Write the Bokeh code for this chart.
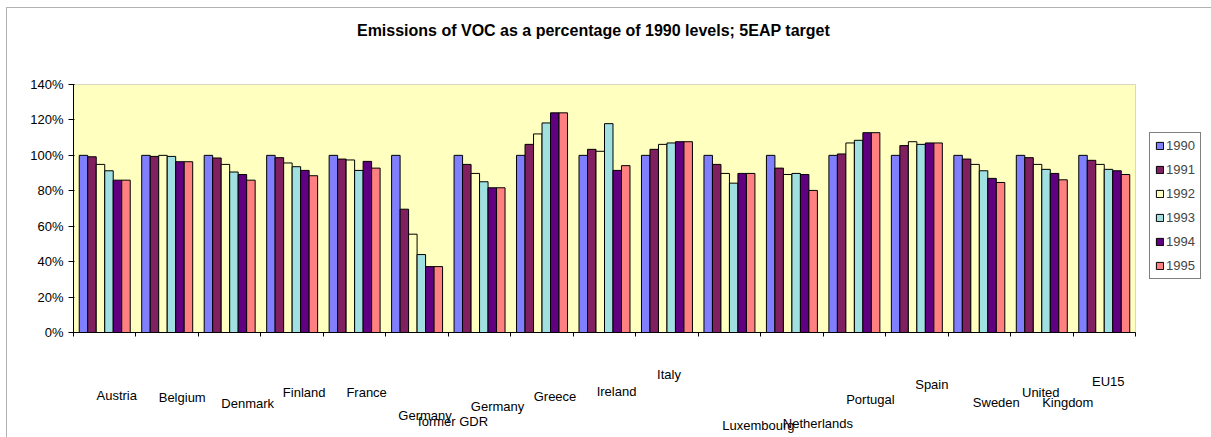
from bokeh.plotting import figure
from bokeh.models import (Range1d, FixedTicker, PrintfTickFormatter, LinearAxis,
                          Legend, LegendItem, LabelSet, Label, ColumnDataSource, BoxAnnotation,
                          CustomJSTickFormatter)
from bokeh.core.properties import value
from bokeh.transform import dodge
from bokeh.embed import file_html
from bokeh.resources import INLINE

# ---------------- data ----------------
title_text = "Emissions of VOC as a percentage of 1990 levels; 5EAP target"
countries = ["Austria", "Belgium", "Denmark", "Finland", "France", "Germany former GDR",
             "Germany", "Greece", "Ireland", "Italy", "Luxembourg", "Netherlands",
             "Portugal", "Spain", "Sweden", "United Kingdom", "EU15"]
years = ["1990", "1991", "1992", "1993", "1994", "1995"]

y1990 = [100, 100, 100, 100, 100, 100, 100, 100, 100, 100, 100, 100, 100, 100, 100, 100, 100]
y1991 = [99.2, 99.4, 98.5, 98.7, 97.9, 69.6, 94.9, 106.2, 103.4, 103.4, 94.9, 92.8, 100.8, 105.5, 97.9, 98.7, 97.2]
y1992 = [94.9, 100.0, 94.9, 95.7, 97.4, 55.5, 89.8, 112.1, 102.3, 106.2, 89.8, 89.2, 107.0, 107.7, 94.9, 94.9, 94.9]
y1993 = [91.3, 99.4, 90.6, 93.6, 91.5, 44.0, 85.1, 118.3, 117.9, 107.0, 84.3, 89.8, 108.5, 106.2, 91.3, 92.1, 92.1]
y1994 = [86.0, 96.4, 89.2, 91.5, 96.6, 37.2, 81.7, 124.0, 91.5, 107.7, 89.8, 89.2, 112.8, 107.0, 87.0, 89.8, 91.3]
y1995 = [86.0, 96.4, 86.0, 88.5, 92.8, 37.2, 81.7, 124.0, 94.2, 107.7, 89.8, 80.2, 112.8, 107.0, 84.7, 86.2, 89.2]

y_ticks = [0, 20, 40, 60, 80, 100, 120, 140]
y_max = 140

# wrapped tick-label lines (as the original category axis shows them)
tick_lines = [["Austria"], ["Belgium"], ["Denmark"], ["Finland"], ["France"],
              ["Germany", "former GDR"], ["Germany"], ["Greece"], ["Ireland"], ["Italy"],
              ["Luxembourg"], ["Netherlands"], ["Portugal"], ["Spain"], ["Sweden"],
              ["United", "Kingdom"], ["EU15"]]

# ---------------- style / layout ----------------
FONT = "Liberation Sans"
colors = ["#8080FF", "#802060", "#FFFFC0", "#A0E0E0", "#600080", "#FF8080"]
W, H = 1211, 437
PA_L, PA_R, PA_T, PA_B = 73, 1135, 84, 332   # plot-area edges in canvas pixels
# staggered label placement (pixels, per line)
line_dx = [12, 15, 18, 12, 12, 8, 36, 18, 13, 12, 2, 29, 26, 16, 15, 17, -1, 26, 4]
line_dy = [63, 65, 71, 60, 60, 83, 89, 74, 64, 59, 42, 93, 91, 67, 52, 70, 60, 70, 49]

n = len(countries)
cat_pos = [i + 0.5 for i in range(n)]  # category centres on a linear axis

# frame covers the whole canvas; ranges chosen so the plot area sits at PA_*
xs = (PA_R - PA_L) / n
ys = (PA_B - PA_T) / y_max
x_range = Range1d(-PA_L / xs, n + (W - PA_R) / xs)
y_range = Range1d(-(H - PA_B) / ys, y_max + PA_T / ys)

p = figure(width=W, height=H, x_range=x_range, y_range=y_range,
           x_axis_location=None, y_axis_location=None,
           output_backend="svg", toolbar_location=None,
           min_border_left=0, min_border_right=0, min_border_top=0, min_border_bottom=0)
p.background_fill_color = "white"
p.border_fill_color = "white"
p.outline_line_color = None
p.xgrid.visible = False
p.ygrid.visible = False

plot_area = BoxAnnotation(left=0, right=n, bottom=0, top=y_max, fill_color="#FFFFC0",
                          fill_alpha=1, line_color="#808080", line_width=1, level="underlay")
p.add_layout(plot_area)

ya = LinearAxis(fixed_location=0, bounds=(0, y_max), ticker=FixedTicker(ticks=y_ticks),
                formatter=PrintfTickFormatter(format="%d%%"))
ya.axis_line_color = "black"
ya.major_tick_line_color = "black"
ya.major_tick_out = 5
ya.major_tick_in = 1
ya.minor_tick_line_color = None
ya.major_label_standoff = 5
ya.major_label_text_font = FONT
ya.major_label_text_font_size = "13px"
ya.major_label_text_color = "black"
p.add_layout(ya, "left")

# category boundary ticks
xa = LinearAxis(fixed_location=0, bounds=(0, n), ticker=FixedTicker(ticks=list(range(n + 1))),
                formatter=CustomJSTickFormatter(code="return ''"))
xa.axis_line_color = "black"
xa.major_tick_line_color = "black"
xa.major_tick_out = 4
xa.major_tick_in = 0
xa.minor_tick_line_color = None
xa.major_label_text_font_size = "1px"
p.add_layout(xa, "below")

src = ColumnDataSource(dict(xc=cat_pos, country=countries, y1990=y1990, y1991=y1991,
                            y1992=y1992, y1993=y1993, y1994=y1994, y1995=y1995))
bw = 0.136
items = []
for j, (yr, col) in enumerate(zip(years, colors)):
    r = p.vbar(x=dodge("xc", (j - 2.5) * bw), top="y" + yr,
               width=bw, source=src, fill_color=col, line_color="black", line_width=1)
    items.append(LegendItem(label=yr, renderers=[r]))

# legend location = bottom-left corner in pixels from canvas bottom-left
legend = Legend(items=items, location=(1149, H - 279), border_line_color="black",
                border_line_width=1, background_fill_color="white", background_fill_alpha=1,
                label_text_font=FONT, label_text_font_size="13px", glyph_width=9,
                glyph_height=9, label_standoff=2, padding=5, spacing=9, label_height=14,
                margin=0)
p.add_layout(legend, "center")

lab_x, lab_text = [], []
for xc, lines in zip(cat_pos, tick_lines):
    for ln in lines:
        lab_x.append(xc)
        lab_text.append(ln)
lab_src = ColumnDataSource(dict(x=lab_x, text=lab_text, y=[0] * len(lab_x),
                                xo=line_dx, yo=[-d for d in line_dy]))
labels = LabelSet(x="x", y="y", text="text", x_offset="xo", y_offset="yo", source=lab_src,
                  text_align="center", text_baseline="middle", text_font=value(FONT),
                  text_font_size=value("13px"), text_color="black")
p.add_layout(labels)

title = Label(x=593, y=H - 30, x_units="screen", y_units="screen", text=title_text,
              text_align="center", text_baseline="middle", text_font=FONT,
              text_font_style="bold", text_font_size="16px", text_color="black")
p.add_layout(title)

frame_box = BoxAnnotation(left=6, right=3000, top=7, bottom=3000, left_units="canvas",
                          right_units="canvas", top_units="canvas", bottom_units="canvas",
                          fill_alpha=0, line_color="black", line_width=1, level="overlay")
p.add_layout(frame_box)

open("out.html", "w").write(file_html(p, INLINE))
